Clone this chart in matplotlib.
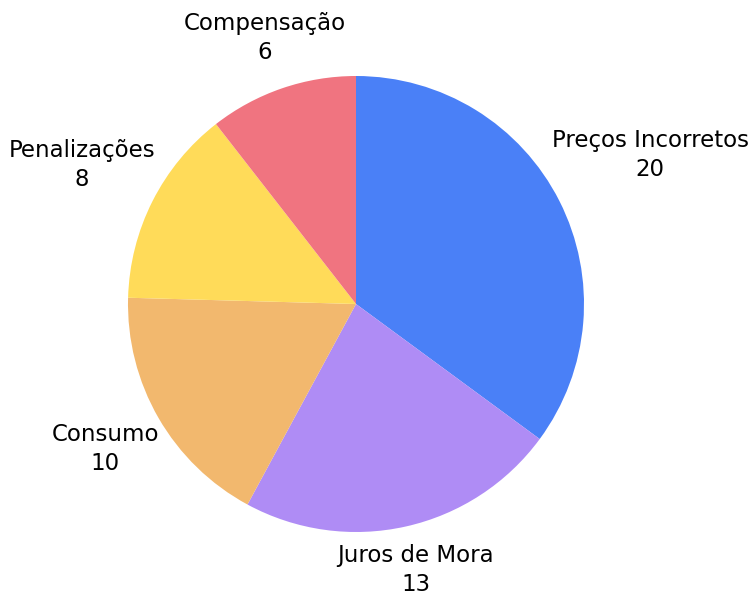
import numpy as np
import matplotlib
matplotlib.use('Agg')
import matplotlib.pyplot as plt

labels = ['Preços Incorretos', 'Juros de Mora', 'Consumo', 'Penalizações', 'Compensação']
values = [20, 13, 10, 8, 6]
colors = ['#4A80F7', '#AF8CF5', '#F2B86E', '#FFDB59', '#F07480']

W, H = 750, 597
cx, cy, r = 356, 304, 228  # pie centre and radius in pixels

fig = plt.figure(figsize=(W / 100, H / 100), dpi=100)
ax = fig.add_axes([(cx - r) / W, (H - cy - r) / H, 2 * r / W, 2 * r / H])
wedges, _ = ax.pie(values, colors=colors, startangle=90, counterclock=False,
                   radius=1, wedgeprops=dict(linewidth=0))
ax.set_xlim(-1, 1)
ax.set_ylim(-1, 1)
ax.set_aspect('equal')
ax.axis('off')

# labels centred, pushed out so their box just clears the pie
fig.canvas.draw()
renderer = fig.canvas.get_renderer()
gap = 2 / r
for w, lab, v in zip(wedges, labels, values):
    ang = np.deg2rad((w.theta1 + w.theta2) / 2)
    dx, dy = np.cos(ang), np.sin(ang)
    t = ax.text(0, 0, f'{lab}\n{v}', ha='center', va='center', fontsize=16.5,
                family='DejaVu Sans', linespacing=1.35, color='black')
    bb = t.get_window_extent(renderer)
    hw = bb.width / 2 / r
    hh = bb.height / 2 / r
    d = 1 + gap + hw * abs(dx) + hh * abs(dy)
    t.set_position((d * dx, d * dy))

fig.savefig('out.png', dpi=100)
